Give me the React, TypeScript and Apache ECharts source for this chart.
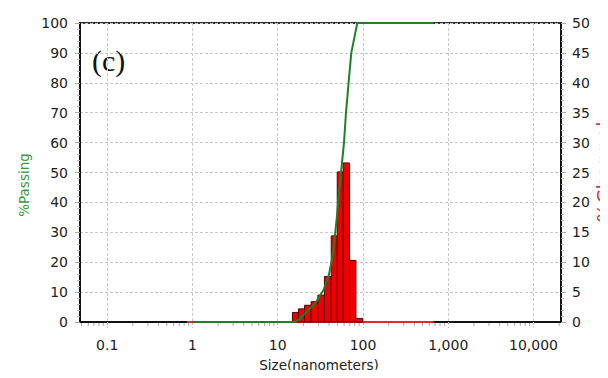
import React, { useEffect, useRef } from "react";
import * as echarts from "echarts";

// Channel edges (nm) and % in each channel (right axis)
const channelEdges = [14.9, 17.5, 20.6, 24.6, 29.6, 35.3, 42.4, 49.9, 58.6, 69.6, 82.7, 98.9];
const channelPct = [1.6, 2.2, 2.8, 3.4, 4.5, 7.6, 14.4, 25.1, 26.6, 10.3, 0.6];

// Cumulative % passing curve (left axis)
const passingSize = [1.0, 15.97, 17.8, 20.95, 27.5, 34.4, 39.4, 43.2, 46.3, 49.4, 52.6, 56.6, 59.8, 63.1, 67.7, 72.9, 85.7, 671];
const passingPct = [0, 0, 0.9, 2.9, 6.2, 10.7, 15.2, 20.7, 27.4, 35.2, 44.1, 53, 59.8, 69.8, 79.8, 90, 100, 100];

// Zero baseline of the channel distribution
const channelLineSize = [0.86, 671];
const channelLinePct = [0, 0];

// Axis ranges / ticks
const xMin = 0.048;
const xMax = 21000;
const leftTicks = [0, 100, 10];
const rightTicks = [0, 50, 5];
const minorXTicks: number[] = [];
for (let k = -2; k <= 4; k++) {
  for (let m = 2; m <= 9; m++) {
    const v = m * Math.pow(10, k);
    if (v > xMin && v < xMax) minorXTicks.push(v);
  }
}

const labelFont = "DejaVu Sans";

export default function App() {
  const ref = useRef<HTMLDivElement>(null);
  useEffect(() => {
    if (!ref.current) return;
    const chart = echarts.init(ref.current, null, { renderer: "svg" });
    const bars = channelPct.map((p, i) => [channelEdges[i], channelEdges[i + 1], p]);
    const option: any = {
      animation: false,
      backgroundColor: "#fff",
      grid: {
        left: 80,
        right: 47,
        top: 23,
        bottom: 56,
        containLabel: false,
        outerBoundsMode: "none",
        show: true,
        borderColor: "#333",
        borderWidth: 2,
        backgroundColor: "transparent",
      },
      xAxis: {
        type: "log",
        logBase: 10,
        min: xMin,
        max: xMax,
        splitNumber: 5,
        axisLine: { show: true, lineStyle: { color: "#111", width: 2 } },
        axisTick: {
          show: true,
          length: 6,
          lineStyle: { color: "#bbb", type: [3, 2] },
        },
        splitLine: { show: true, lineStyle: { color: "#c8c8c8", type: [3, 2], width: 1 } },
        axisLabel: {
          margin: 16,
          fontFamily: labelFont,
          fontSize: 14,
          color: "#222",
          showMinLabel: false,
          showMaxLabel: false,
          formatter: (v: number) => {
            const l = Math.log10(v);
            if (Math.abs(l - Math.round(l)) > 1e-6) return "";
            if (v < 1) return "0.1";
            return Math.round(v).toLocaleString("en-US");
          },
        },
      },
      yAxis: [
        {
          type: "value",
          min: leftTicks[0],
          max: leftTicks[1],
          interval: leftTicks[2],
          position: "left",
          axisLine: { show: true, lineStyle: { color: "#111", width: 2 } },
          axisTick: { show: true, length: 5, lineStyle: { color: "#aaa" } },
          minorTick: { show: true, splitNumber: 5, length: 3, lineStyle: { color: "#bbb" } },
          splitLine: { show: true, lineStyle: { color: "#c8c8c8", type: [3, 2], width: 1 } },
          axisLabel: { margin: 12, fontFamily: labelFont, fontSize: 14, color: "#222" },
        },
        {
          type: "value",
          min: rightTicks[0],
          max: rightTicks[1],
          interval: rightTicks[2],
          position: "right",
          axisLine: { show: true, lineStyle: { color: "#111", width: 2 } },
          axisTick: { show: true, length: 5, lineStyle: { color: "#aaa" } },
          minorTick: { show: true, splitNumber: 5, length: 3, lineStyle: { color: "#bbb" } },
          splitLine: { show: false },
          axisLabel: { margin: 11, fontFamily: labelFont, fontSize: 14, color: "#222" },
        },
      ],
      series: [
        {
          type: "custom",
          name: "minor",
          xAxisIndex: 0,
          yAxisIndex: 0,
          data: minorXTicks.map((v) => [v, 0]),
          silent: true,
          z: 1,
          renderItem: (params: any, api: any) => {
            const p = api.coord([api.value(0), 0]);
            return {
              type: "line",
              shape: { x1: p[0], y1: p[1] + 1, x2: p[0], y2: p[1] + 4 },
              style: { stroke: "#aaa", lineWidth: 1 },
            };
          },
        },
        {
          type: "line",
          name: "zero",
          yAxisIndex: 1,
          data: channelLineSize.map((s, i) => [s, channelLinePct[i]]),
          showSymbol: false,
          lineStyle: { color: "#e02a2a", width: 2 },
          z: 2,
        },
        {
          type: "custom",
          name: "%Channel",
          yAxisIndex: 1,
          data: bars,
          z: 3,
          renderItem: (params: any, api: any) => {
            const a = api.coord([api.value(0), 0]);
            const b = api.coord([api.value(1), api.value(2)]);
            return {
              type: "rect",
              shape: { x: a[0], y: b[1], width: b[0] - a[0], height: a[1] - b[1] },
              style: { fill: "#ee0000", stroke: "#5a0000", lineWidth: 1 },
            };
          },
        },
        {
          type: "line",
          name: "%Passing",
          yAxisIndex: 0,
          data: passingSize.map((s, i) => [s, passingPct[i]]),
          showSymbol: false,
          lineStyle: { color: "#237f23", width: 2 },
          z: 4,
        },
      ],
      graphic: [
        {
          type: "text",
          x: 319,
          y: 365,
          style: {
            text: "Size(nanometers)",
            fill: "#222",
            font: `13.5px ${labelFont}`,
            align: "center",
            verticalAlign: "middle",
          },
        },
        {
          type: "text",
          x: 24,
          y: 185,
          rotation: Math.PI / 2,
          style: {
            text: "%Passing",
            fill: "#3a9a3a",
            font: `13.5px ${labelFont}`,
            align: "center",
            verticalAlign: "middle",
          },
        },
        {
          type: "text",
          x: 604,
          y: 172,
          rotation: Math.PI / 2,
          style: {
            text: "%Channel",
            fill: "#d43a3a",
            font: `20px ${labelFont}`,
            align: "center",
            verticalAlign: "middle",
          },
        },
        {
          type: "text",
          x: 92,
          y: 60,
          style: {
            text: "(c)",
            fill: "#111",
            font: `30px "Liberation Serif"`,
            align: "left",
            verticalAlign: "middle",
          },
        },
      ],
    };
    chart.setOption(option);
    return () => chart.dispose();
  }, []);
  return <div ref={ref} style={{ width: 608, height: 378, margin: -8 }} />;
}
